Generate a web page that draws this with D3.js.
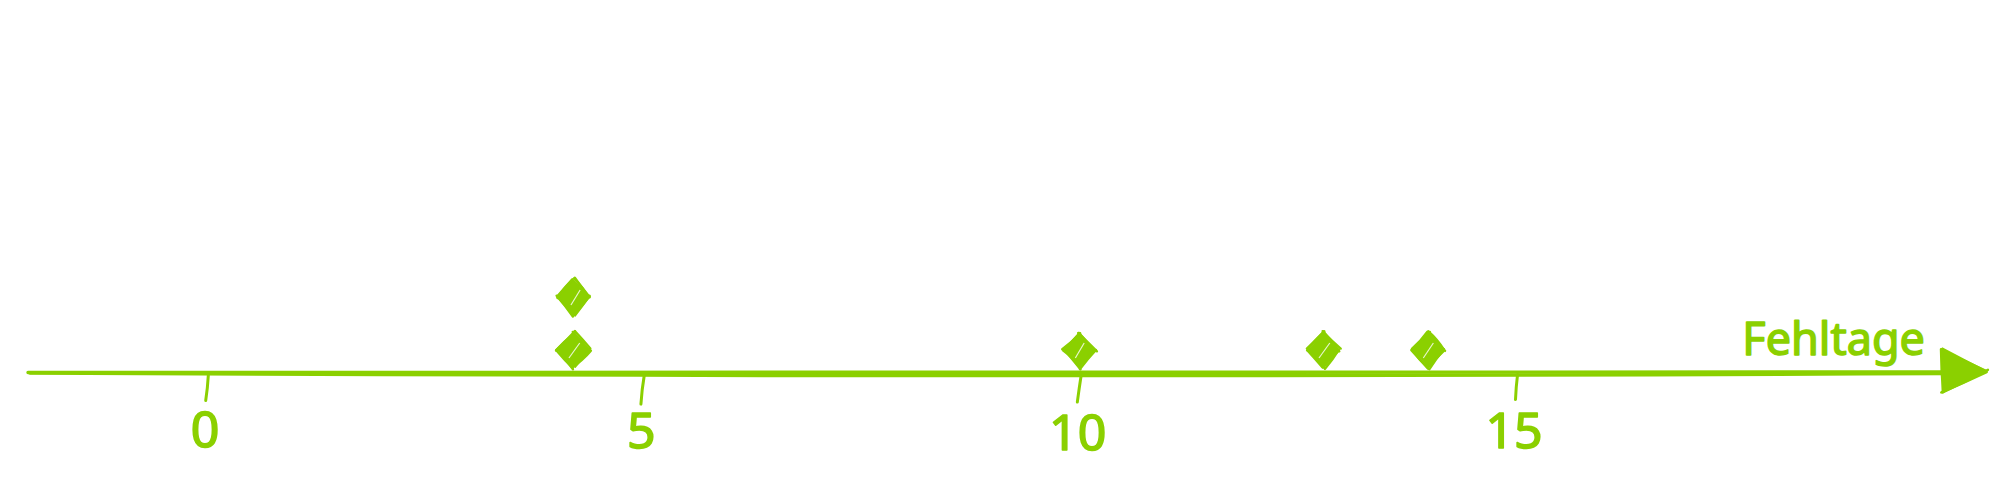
<!DOCTYPE html>
<html>
<head>
<meta charset="utf-8">
<script src="https://cdn.jsdelivr.net/npm/d3@7"></script>
<style>
  html, body { margin: 0; padding: 0; background: #fff; }
  svg { display: block; }
</style>
</head>
<body>
<div id="chart"></div>
<script>
// data
const dayValues = [4.2, 4.2, 10, 12.8, 14];
const stackLevels = [1, 2, 1, 1, 1];
const tickValues = [0, 5, 10, 15];
const tickLabels = ['0', '5', '10', '15'];
const axisTitle = 'Fehltage';

const width = 2015;
const height = 499;
const green = '#8bd000';

// sketch jitter only (not data)
const rng = d3.randomLcg(0.4242);
const jit = (a) => (rng() * 2 - 1) * a;

const svg = d3
  .select('#chart')
  .append('svg')
  .attr('width', width)
  .attr('height', height);

const x = d3.scaleLinear().domain([0, 15]).range([207, 1516]);
const y = d3.scaleLinear().domain([1, 2]).range([350, 297]);
const axisY = 373;

// a hand drawn line: two slightly bent strokes
function roughLine(g, x1, y1, x2, y2, opts) {
  const o = Object.assign({ r: 1.5, bow: 0.6, w: 2.5, passes: 2 }, opts);
  for (let i = 0; i < o.passes; i += 1) {
    const ax = x1 + jit(o.r);
    const ay = y1 + jit(o.r);
    const bx = x2 + jit(o.r);
    const by = y2 + jit(o.r);
    const mx = (ax + bx) / 2 + jit(o.bow);
    const my = (ay + by) / 2 + jit(o.bow);
    g.append('path')
      .attr('d', `M${ax},${ay} Q${mx},${my} ${bx},${by}`)
      .attr('fill', 'none')
      .attr('stroke', green)
      .attr('stroke-width', o.w)
      .attr('stroke-linecap', 'round');
  }
}

function roughPolygon(g, pts, opts) {
  g.append('path')
    .attr('d', `M${pts.map(p => p.join(',')).join('L')}Z`)
    .attr('fill', green)
    .attr('stroke', 'none');
  pts.forEach((p, i) => {
    const q = pts[(i + 1) % pts.length];
    roughLine(g, p[0], p[1], q[0], q[1], opts);
  });
}

// axis line with arrow
const axis = svg.append('g');
axis.append('path')
  .attr('d', `M28,${axisY - 0.5} Q990,${axisY - 4} 1945,${axisY - 1}`)
  .attr('fill', 'none').attr('stroke', green).attr('stroke-width', 3.4).attr('stroke-linecap', 'round');
axis.append('path')
  .attr('d', `M30,${axisY} Q990,${axisY + 5} 1945,${axisY + 0.5}`)
  .attr('fill', 'none').attr('stroke', green).attr('stroke-width', 3.4).attr('stroke-linecap', 'round');
roughPolygon(axis, [[1942, 350], [1987, 371], [1942, 392]], { r: 1.2, bow: 1, w: 2.5 });

// ticks
const ticks = svg.append('g');
tickValues.forEach((v, i) => {
  const tx = x(v);
  roughLine(ticks, tx + 1, axisY + 2, tx - 1.5 + jit(1.5), axisY + 29 + jit(3), { r: 0.6, bow: 1.2, w: 3, passes: 1 });
  ticks.append('text')
    .attr('x', tx - 2)
    .attr('y', 448 + jit(3))
    .attr('text-anchor', 'middle')
    .attr('font-family', 'Noto Sans, sans-serif')
    .attr('font-size', 50)
    .attr('fill', green)
    .attr('stroke', green)
    .attr('stroke-width', 1.6)
    .attr('stroke-linejoin', 'round')
    .text(tickLabels[i]);
});

// axis title
svg.append('text')
  .attr('x', 1925)
  .attr('y', 355)
  .attr('text-anchor', 'end')
  .attr('font-family', 'Noto Sans, sans-serif')
  .attr('font-size', 45)
  .attr('fill', green)
  .attr('stroke', green)
  .attr('stroke-width', 1.5)
  .attr('stroke-linejoin', 'round')
  .text(axisTitle);

// diamonds
const dots = svg.append('g');
dayValues.forEach((v, i) => {
  const cx = x(v);
  const cy = y(stackLevels[i]);
  const hw = 16;
  const hh = 18;
  roughPolygon(dots, [[cx, cy - hh], [cx + hw, cy], [cx, cy + hh], [cx - hw, cy]], { r: 1.5, bow: 1.5, w: 2.4 });
  // a couple of white hachure gaps, like the sketch
  dots.append('path')
    .attr('d', `M${cx - 4 + jit(2)},${cy + 8} L${cx + 5 + jit(2)},${cy - 7}`)
    .attr('stroke', '#fff')
    .attr('stroke-width', 1.2)
    .attr('opacity', 0.8);
});
</script>
</body>
</html>
